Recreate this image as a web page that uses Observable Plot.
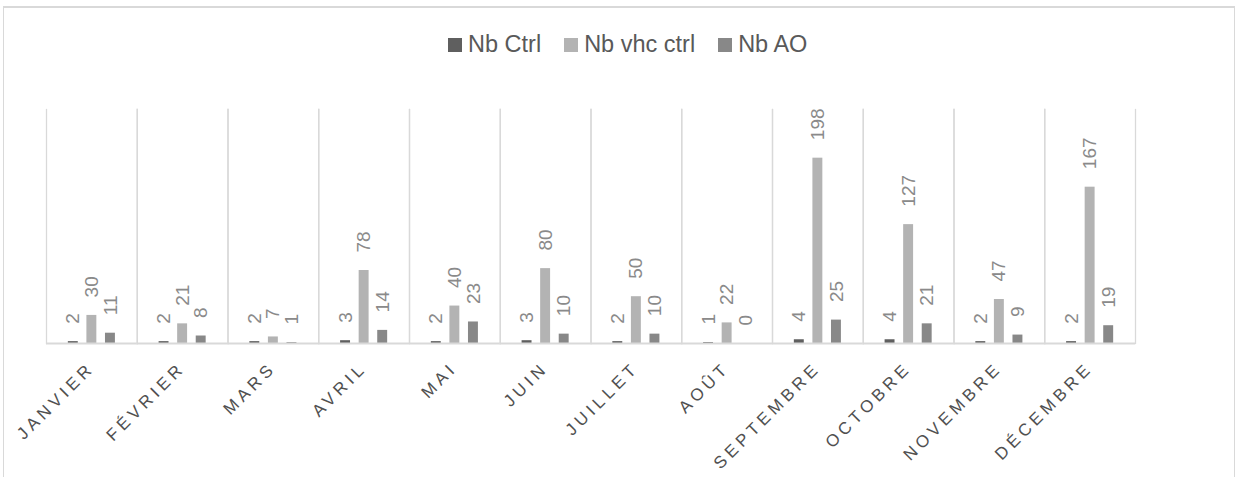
<!DOCTYPE html>
<html>
<head>
<meta charset="utf-8">
<script src="https://cdn.jsdelivr.net/npm/d3@7"></script>
<script src="https://cdn.jsdelivr.net/npm/@observablehq/plot@0.6"></script>
<style>
  html, body { margin: 0; padding: 0; background: #ffffff; }
  body { width: 1236px; height: 477px; position: relative; overflow: hidden; font-family: "Liberation Sans", Arial, sans-serif; }
  #box { position: absolute; left: 3px; top: 6px; width: 1232px; height: 500px; border: 1px solid #d9d9d9; border-top-width: 2px; box-sizing: border-box; }
  #legend { position: absolute; left: 448px; top: 31px; display: flex; align-items: center; font-size: 23.5px; color: #595959; white-space: nowrap; }
  #legend .item { display: flex; align-items: center; margin-right: 23px; }
  #legend .sw { width: 14px; height: 14px; margin-right: 6px; }
  #chart { position: absolute; left: 0; top: 80px; }
  #chart svg { overflow: visible; }
  .mlab text { letter-spacing: 4.2px; }
</style>
</head>
<body>
<div id="box"></div>
<div id="legend"></div>
<div id="chart"></div>
<script>
const months = ["JANVIER", "FÉVRIER", "MARS", "AVRIL", "MAI", "JUIN", "JUILLET", "AOÛT", "SEPTEMBRE", "OCTOBRE", "NOVEMBRE", "DÉCEMBRE"];
const seriesNames = ["Nb Ctrl", "Nb vhc ctrl", "Nb AO"];
const seriesColors = ["#5f5f5f", "#b3b3b3", "#888888"];
const nbCtrl = [2, 2, 2, 3, 2, 3, 2, 1, 4, 4, 2, 2];
const nbVhcCtrl = [30, 21, 7, 78, 40, 80, 50, 22, 198, 127, 47, 167];
const nbAO = [11, 8, 1, 14, 23, 10, 10, 0, 25, 21, 9, 19];

const seriesValues = [nbCtrl, nbVhcCtrl, nbAO];
const rows = [];
months.forEach((m, i) => {
  seriesNames.forEach((s, j) => rows.push({month: m, series: s, value: seriesValues[j][i]}));
});

// legend
const legend = document.getElementById("legend");
seriesNames.forEach((s, j) => {
  const item = document.createElement("div");
  item.className = "item";
  const sw = document.createElement("div");
  sw.className = "sw";
  sw.style.background = seriesColors[j];
  const t = document.createElement("span");
  t.textContent = s;
  item.appendChild(sw);
  item.appendChild(t);
  legend.appendChild(item);
});

const plot = Plot.plot({
  width: 1236,
  height: 397,
  marginLeft: 46,
  marginRight: 101,
  marginTop: 29,
  marginBottom: 134,
  style: {fontFamily: "'Liberation Sans', Arial, sans-serif", background: "transparent"},
  fx: {domain: months, padding: 0, round: false, axis: null},
  x: {domain: seriesNames, paddingInner: 0.465, paddingOuter: 1.176, round: false, axis: null},
  y: {domain: [0, 250], axis: null},
  color: {domain: seriesNames, range: seriesColors},
  marks: [
    Plot.frame({anchor: "left", stroke: "#d9d9d9", strokeWidth: 1.3}),
    Plot.frame({anchor: "right", stroke: "#d9d9d9", strokeWidth: 1.3}),
    Plot.barY(rows, {fx: "month", x: "series", y: "value", fill: "series"}),
    Plot.ruleY([0], {stroke: "#d9d9d9", strokeWidth: 2}),
    Plot.text(rows, {
      fx: "month", x: "series", y: "value", text: d => String(d.value),
      rotate: -90, textAnchor: "start", lineAnchor: "middle", dy: -18,
      fill: "#8a8a8a", fontSize: 19
    }),
    Plot.text(months, {
      fx: d => d, text: d => d, frameAnchor: "bottom",
      rotate: -45, textAnchor: "end", lineAnchor: "top",
      dx: -5, dy: 17, fill: "#505050", fontSize: 17, className: "mlab"
    })
  ]
});
document.getElementById("chart").appendChild(plot);
</script>
</body>
</html>
